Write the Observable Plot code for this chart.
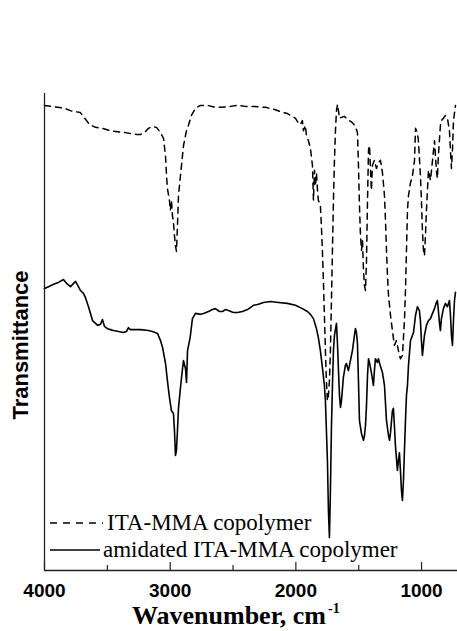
<!DOCTYPE html>
<html><head><meta charset="utf-8">
<script src="https://cdn.jsdelivr.net/npm/d3@7"></script>
<script src="https://cdn.jsdelivr.net/npm/@observablehq/plot@0.6"></script>
<style>html,body{margin:0;padding:0;background:#fff;}</style>
</head><body><div id="chart"></div>
<script>
// ITA-MMA copolymer (dashed) — wavenumber (cm-1) and relative transmittance (a.u.)
const itaWn = [
4000,3897,3841,3793,3714,3642,3594,3539,3475,3419,
3356,3316,3268,3236,3197,3173,3141,3109,3077,3053,
3037,3029,3022,3006,2998,2990,2982,2974,2966,2958,
2950,2942,2934,2918,2910,2894,2878,2870,2855,2831,
2799,2759,2703,2640,2600,2520,2465,2401,2337,2242,
2162,2123,2067,2043,2003,1987,1964,1948,1940,1924,
1916,1900,1884,1868,1860,1852,1844,1836,1828,1821,
1805,1797,1789,1781,1773,1765,1757,1749,1741,1733,
1725,1717,1709,1701,1693,1685,1677,1669,1661,1653,
1637,1614,1598,1574,1550,1526,1510,1502,1494,1486,
1478,1470,1462,1454,1446,1438,1430,1422,1414,1406,
1399,1391,1375,1359,1343,1327,1311,1295,1287,1279,
1271,1263,1247,1232,1216,1200,1184,1168,1152,1136,
1128,1120,1112,1104,1088,1072,1056,1048,1033,1025,
1009,1001,993,985,977,969,961,945,929,913,
897,882,874,866,850,842,826,810,794,778,
770,762,754,746,730];
const itaT = [
97.5,97.1,96.9,96.4,96.0,93.5,92.9,92.7,92.2,92.0,
91.8,91.6,91.4,91.4,92.0,92.7,93.1,92.9,91.8,90.6,
86.8,82.8,80.1,77.6,75.5,77.6,74.4,73.0,70.2,68.1,
66.9,72.3,78.6,82.8,84.9,89.1,91.2,92.2,93.3,95.4,
96.9,97.5,97.5,97.1,97.1,97.3,97.5,97.3,97.3,97.1,
96.6,96.2,95.8,95.4,94.8,94.1,93.5,94.3,92.2,93.3,
91.2,90.1,88.5,84.9,77.6,83.9,80.7,83.4,79.7,77.6,
76.5,72.3,67.1,60.8,53.5,46.1,39.8,35.6,36.7,39.8,
46.1,56.6,67.1,77.6,86.0,92.2,96.4,97.7,96.4,94.8,
95.0,95.2,94.8,94.3,93.9,93.1,91.8,84.9,76.5,70.2,
67.1,69.2,62.9,59.7,58.7,65.0,77.6,88.1,89.1,83.9,
79.7,84.9,86.0,84.3,85.5,86.0,83.4,78.6,73.4,67.1,
61.8,57.7,53.5,50.3,47.2,48.2,46.1,44.4,45.1,52.4,
58.7,67.1,75.5,78.6,81.3,82.8,86.0,92.7,91.8,90.1,
82.8,77.6,71.3,67.1,66.0,70.2,75.5,83.9,81.8,85.9,
90.1,83.9,82.2,87.0,93.3,94.3,94.8,95.4,94.8,92.2,
88.1,84.3,88.1,94.3,97.5];

// amidated ITA-MMA copolymer (solid)
const amWn = [
4000,3968,3928,3889,3849,3825,3793,3769,3753,3730,
3714,3690,3674,3650,3634,3618,3594,3578,3555,3539,
3523,3499,3475,3451,3411,3372,3348,3332,3316,3276,
3236,3173,3141,3101,3077,3061,3037,3022,3006,2990,
2974,2966,2958,2950,2942,2934,2918,2902,2894,2878,
2870,2862,2846,2839,2823,2799,2759,2735,2695,2664,
2640,2608,2584,2560,2536,2497,2465,2425,2385,2337,
2298,2258,2202,2139,2067,2003,1948,1908,1884,1860,
1836,1821,1805,1789,1773,1765,1757,1749,1741,1733,
1725,1717,1709,1701,1693,1677,1669,1661,1653,1645,
1637,1622,1606,1598,1582,1566,1550,1534,1526,1518,
1510,1502,1494,1478,1462,1454,1446,1438,1430,1422,
1414,1399,1383,1375,1367,1351,1343,1327,1311,1295,
1279,1263,1255,1247,1232,1224,1216,1208,1192,1184,
1176,1168,1160,1152,1144,1136,1128,1120,1112,1104,
1088,1072,1064,1048,1033,1017,1009,1001,993,985,
977,961,945,929,913,897,882,874,866,858,
850,842,826,810,794,778,770,762,754,746,
738,730];
const amT = [
59.1,59.5,60.0,60.4,61.0,60.2,59.5,60.2,60.6,59.5,
58.7,58.1,57.2,55.3,53.9,52.4,51.8,51.4,51.6,52.6,
51.2,50.7,50.5,50.3,50.1,49.9,50.1,50.9,50.5,50.5,
50.5,50.3,50.1,49.7,48.2,46.8,43.4,39.8,36.3,33.5,
32.9,29.4,24.1,25.2,29.4,34.0,38.4,42.3,44.0,42.3,
39.4,46.1,48.2,49.3,52.8,53.9,53.7,53.9,54.3,54.7,
54.9,54.3,54.3,54.7,54.5,54.1,54.1,54.3,54.7,55.6,
55.8,56.2,56.4,56.2,56.0,55.6,54.9,54.3,53.7,52.8,
50.7,48.8,46.1,42.6,38.8,35.6,29.4,23.1,12.6,6.9,
16.8,30.0,38.8,46.1,49.3,51.8,47.6,41.9,36.7,34.2,
35.6,40.5,43.0,43.4,41.9,44.0,46.1,49.3,50.7,49.9,
47.6,39.8,31.4,28.7,27.3,28.3,30.4,34.6,40.9,44.4,
43.6,41.5,38.8,41.9,44.4,43.6,44.4,42.8,41.5,38.8,
31.4,28.3,27.3,28.9,33.5,34.0,30.4,26.2,21.0,23.1,
24.7,21.0,16.8,14.7,18.9,25.2,31.4,36.7,38.8,43.0,
48.2,49.3,49.9,53.5,55.3,54.5,52.4,48.2,45.1,47.2,
49.3,51.4,52.4,52.8,53.9,54.9,56.2,56.6,54.5,52.0,
50.3,52.8,54.9,56.0,55.3,56.6,53.5,49.3,47.2,52.4,
56.6,58.3];

const majorTicks = [4000, 3000, 2000, 1000];
const minorTicks = [3500, 2500, 1500];
const seriesNames = ["ITA-MMA copolymer", "amidated ITA-MMA copolymer"];
const xTitle = "Wavenumber, cm";
const xTitleSup = "-1";
const yTitle = "Transmittance";

const itaData = itaWn.map((w, i) => ({wn: w, t: itaT[i]}));
const amData = amWn.map((w, i) => ({wn: w, t: amT[i]}));

const W = 457, H = 631, mL = 44, mT = 93, mB = 61;
const plotH = H - mT - mB;
const SANS = "'Liberation Sans', Arial, sans-serif";
const SERIF = "'Liberation Serif', 'Times New Roman', serif";

const chart = Plot.plot({
  width: W, height: H,
  marginLeft: mL, marginRight: 0, marginTop: mT, marginBottom: mB,
  style: {background: "#fff", color: "#000", fontFamily: SANS, fontSize: "19px", fontWeight: "bold", overflow: "visible"},
  x: {domain: [4000, 714], label: null},
  y: {domain: [0, 100], axis: null},
  marks: [
    Plot.ruleX([4000], {stroke: "#222", strokeWidth: 1.3}),
    Plot.ruleY([0], {stroke: "#222", strokeWidth: 1.3}),
    Plot.tickX(minorTicks, {x: d => d, insetTop: plotH - 5, stroke: "#222", strokeWidth: 1.2}),
    Plot.tickX(majorTicks, {x: d => d, insetTop: plotH - 8, stroke: "#222", strokeWidth: 1.2}),
    Plot.axisX(majorTicks, {tickSize: 0, tickPadding: 13, label: null, tickFormat: d => String(d), fontSize: 19, fontWeight: "bold", fontFamily: SANS}),
    Plot.line(itaData, {x: "wn", y: "t", stroke: "#000", strokeWidth: 1.5, strokeDasharray: "6,5"}),
    Plot.line(amData, {x: "wn", y: "t", stroke: "#000", strokeWidth: 1.6})
  ]
});

const svg = d3.select(chart);

// axis titles
svg.append("text")
  .attr("transform", "translate(20,345) rotate(-90)")
  .attr("text-anchor", "middle").attr("dominant-baseline", "central")
  .attr("font-family", SANS).attr("font-size", 22).attr("font-weight", "bold").attr("fill", "#000")
  .text(yTitle);
svg.append("text")
  .attr("x", 326).attr("y", 624).attr("text-anchor", "end")
  .attr("font-family", SERIF).attr("font-size", 26).attr("font-weight", "bold").attr("fill", "#000")
  .text(xTitle);
svg.append("text")
  .attr("x", 328).attr("y", 613).attr("text-anchor", "start")
  .attr("font-family", SERIF).attr("font-size", 14).attr("font-weight", "bold").attr("fill", "#000")
  .text(xTitleSup);

// in-plot legend (bottom-left)
const lg = svg.append("g").attr("font-family", SERIF).attr("font-size", 23)
  .attr("font-weight", "normal").attr("text-anchor", "start").attr("fill", "#000");
lg.append("line").attr("x1", 50).attr("x2", 103).attr("y1", 523).attr("y2", 523)
  .attr("stroke", "#000").attr("stroke-width", 1.3).attr("stroke-dasharray", "7,6");
lg.append("text").attr("x", 107).attr("y", 530).text(seriesNames[0]);
lg.append("line").attr("x1", 50).attr("x2", 100).attr("y1", 550).attr("y2", 550)
  .attr("stroke", "#000").attr("stroke-width", 1.6);
lg.append("text").attr("x", 103).attr("y", 557).text(seriesNames[1]);

document.getElementById("chart").appendChild(chart);
</script>
</body></html>
